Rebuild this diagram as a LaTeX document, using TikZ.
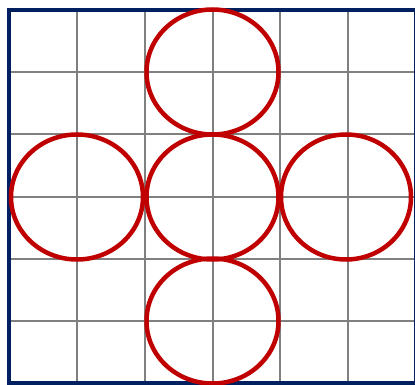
\documentclass[tikz,border=0pt]{standalone}
\definecolor{gridgray}{RGB}{128,128,128}
\definecolor{navyb}{RGB}{0,32,96}
\definecolor{circred}{RGB}{192,0,0}
\tikzset{
  gridline/.style={draw=gridgray, line width=2pt},
  frame/.style={draw=navyb, line width=4pt},
  ring/.style={draw=circred, line width=4.5pt},
}
\begin{document}
\begin{tikzpicture}[x=1pt,y=-1pt]
\useasboundingbox (0,0) rectangle (415,385);
\fill[white] (0,0) rectangle (415,385);
% grid
\foreach \gx in {77,145,212.5,280,347.5} \draw[gridline] (\gx,10) -- (\gx,383);
\foreach \gy in {72,134.5,197,259,321} \draw[gridline] (9,\gy) -- (415,\gy);
% frame
\draw[frame] (9,10) rectangle (415.5,383);
% circles
\draw[ring] (212.5,72) ellipse [x radius=66, y radius=62.5];
\draw[ring] (212.5,197) ellipse [x radius=66, y radius=62.5];
\draw[ring] (212.5,321) ellipse [x radius=66, y radius=62.5];
\draw[ring] (77,197) ellipse [x radius=66, y radius=62.5];
\draw[ring] (346,197) ellipse [x radius=65, y radius=62.5];
\end{tikzpicture}
\end{document}
